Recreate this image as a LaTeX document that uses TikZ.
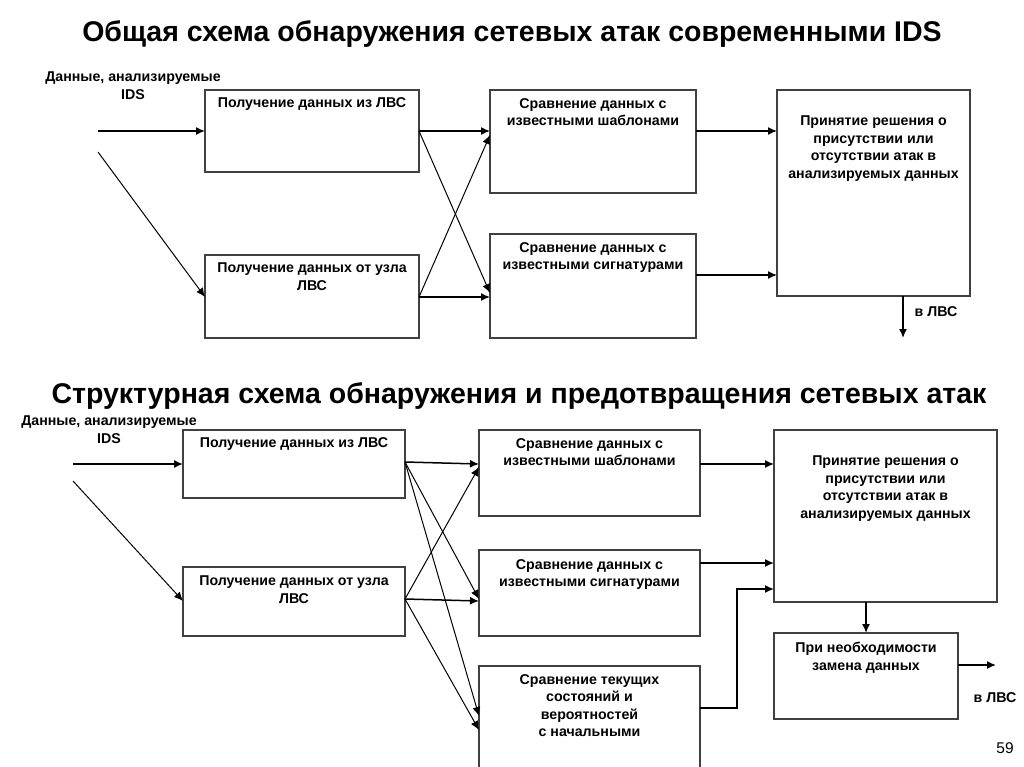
\documentclass[tikz,border=0pt]{standalone}
\usepackage{fontspec}
\setmainfont{Liberation Sans}
\usetikzlibrary{arrows.meta}
\begin{document}
\begin{tikzpicture}[x=1pt,y=-1pt,
  blk/.style={draw=black!75,line width=1.2pt,fill=white},
  lbl/.style={font=\bfseries\fontsize{14.2}{17.5}\selectfont,align=center,inner sep=0pt,anchor=north},
  ttl/.style={font=\bfseries\fontsize{28.5}{32}\selectfont,inner sep=0pt,anchor=base},
  arr/.style={-{Latex[length=9pt,width=8pt]},line width=1.5pt},
  arrt/.style={-{Latex[length=9pt,width=8pt]},line width=1pt}]
\useasboundingbox (0,0) rectangle (1024,767);
\fill[white] (0,0) rectangle (1024,767);
% ===== top =====
\node[ttl] (t1) at (512,42) {Общая схема обнаружения сетевых атак современными IDS};
\node[lbl] (in1) at (133,72) {Данные, анализируемые\\IDS};
\coordinate (s1) at (98,131);
\coordinate (s2) at (98,152);
\draw[blk] (205,90) rectangle (419,172);
\node[lbl] (a1) at (312,97) {Получение данных из ЛВС};
\draw[blk] (205,255) rectangle (419,338);
\node[lbl] (a2) at (312,263) {Получение данных от узла\\ЛВС};
\draw[blk] (490,90) rectangle (696,193);
\node[lbl] (b1) at (593,98) {Сравнение данных с\\известными шаблонами};
\draw[blk] (490,234) rectangle (696,338);
\node[lbl] (b2) at (593,242) {Сравнение данных с\\известными сигнатурами};
\draw[blk] (777,90) rectangle (970,296);
\node[lbl] (c) at (873.5,116) {Принятие решения о\\присутствии или\\отсутствии атак в\\анализируемых данных};
\coordinate (a1o) at (419,131); \coordinate (a2o) at (419,297);
\coordinate (a1i) at (205,131); \coordinate (a2i) at (205,297);
\coordinate (b1i) at (490,131); \coordinate (b1j) at (490,135);
\coordinate (b2i) at (490,297); \coordinate (b2j) at (490,293);
\coordinate (b1o) at (696,131); \coordinate (b2o) at (696,275);
\coordinate (ci1) at (777,131); \coordinate (ci2) at (777,275);
\coordinate (cb) at (903,296); \coordinate (ce) at (903,338);
\draw[arr] (s1) -- (a1i);
\draw[arrt] (s2) -- (a2i);
\draw[arr] (a1o) -- (b1i);
\draw[arrt] (a1o) -- (b2j);
\draw[arr] (a2o) -- (b2i);
\draw[arrt] (a2o) -- (b1j);
\draw[arr] (b1o) -- (ci1);
\draw[arr] (b2o) -- (ci2);
\draw[arr] (cb) -- (ce);
\node[lbl] (v1) at (936,306) {в ЛВС};
% ===== bottom =====
\node[ttl] (t2) at (519,403) {Структурная схема обнаружения и предотвращения сетевых атак};
\node[lbl] (in2) at (109,416) {Данные, анализируемые\\IDS};
\coordinate (s3) at (73,464);
\coordinate (s4) at (73,481);
\draw[blk] (183,430) rectangle (405,498);
\node[lbl] (d1) at (294,437) {Получение данных из ЛВС};
\draw[blk] (183,567) rectangle (405,636);
\node[lbl] (d2) at (294,576) {Получение данных от узла\\ЛВС};
\draw[blk] (479,430) rectangle (700,516);
\node[lbl] (e1) at (589.5,438) {Сравнение данных с\\известными шаблонами};
\draw[blk] (479,550) rectangle (700,636);
\node[lbl] (e2) at (589.5,559) {Сравнение данных с\\известными сигнатурами};
\draw[blk] (479,666) rectangle (700,780);
\node[lbl] (e3) at (589.5,674) {Сравнение текущих\\состояний и\\вероятностей\\с начальными};
\draw[blk] (774,430) rectangle (997,602);
\node[lbl] (f) at (885.5,456) {Принятие решения о\\присутствии или\\отсутствии атак в\\анализируемых данных};
\draw[blk] (774,633) rectangle (958,719);
\node[lbl] (g) at (866,642) {При необходимости\\замена данных};
\coordinate (d1i) at (183,464); \coordinate (d2i) at (183,601);
\coordinate (d1o) at (405,462); \coordinate (d2o) at (405,599);
\coordinate (e1i) at (479,464); \coordinate (e1j) at (479,467);
\coordinate (e2i) at (479,599); \coordinate (e2j) at (479,601);
\coordinate (e3i) at (479,716); \coordinate (e3j) at (479,730);
\coordinate (e1o) at (700,464); \coordinate (e2o) at (700,563); \coordinate (e3o) at (700,708);
\coordinate (fi1) at (774,464); \coordinate (fi2) at (774,563); \coordinate (fi3) at (774,589);
\coordinate (fb) at (866,602); \coordinate (gt) at (866,633);
\coordinate (go) at (958,665); \coordinate (ge) at (996,665);
\draw[arr] (s3) -- (d1i);
\draw[arrt] (s4) -- (d2i);
\draw[arr] (d1o) -- (e1i);
\draw[arrt] (d1o) -- (e2i);
\draw[arrt] (d1o) -- (e3i);
\draw[arrt] (d2o) -- (e1j);
\draw[arr] (d2o) -- (e2j);
\draw[arrt] (d2o) -- (e3j);
\draw[arr] (e1o) -- (fi1);
\draw[arr] (e2o) -- (fi2);
\draw[arr] (e3o) -| (737,589) -- (fi3);
\draw[arr] (fb) -- (gt);
\draw[arr] (go) -- (ge);
\node[lbl] (v2) at (995,692) {в ЛВС};
\node[font=\fontsize{15.5}{18}\selectfont,inner sep=0pt] (pg) at (1005,748) {59};
\end{tikzpicture}
\end{document}
